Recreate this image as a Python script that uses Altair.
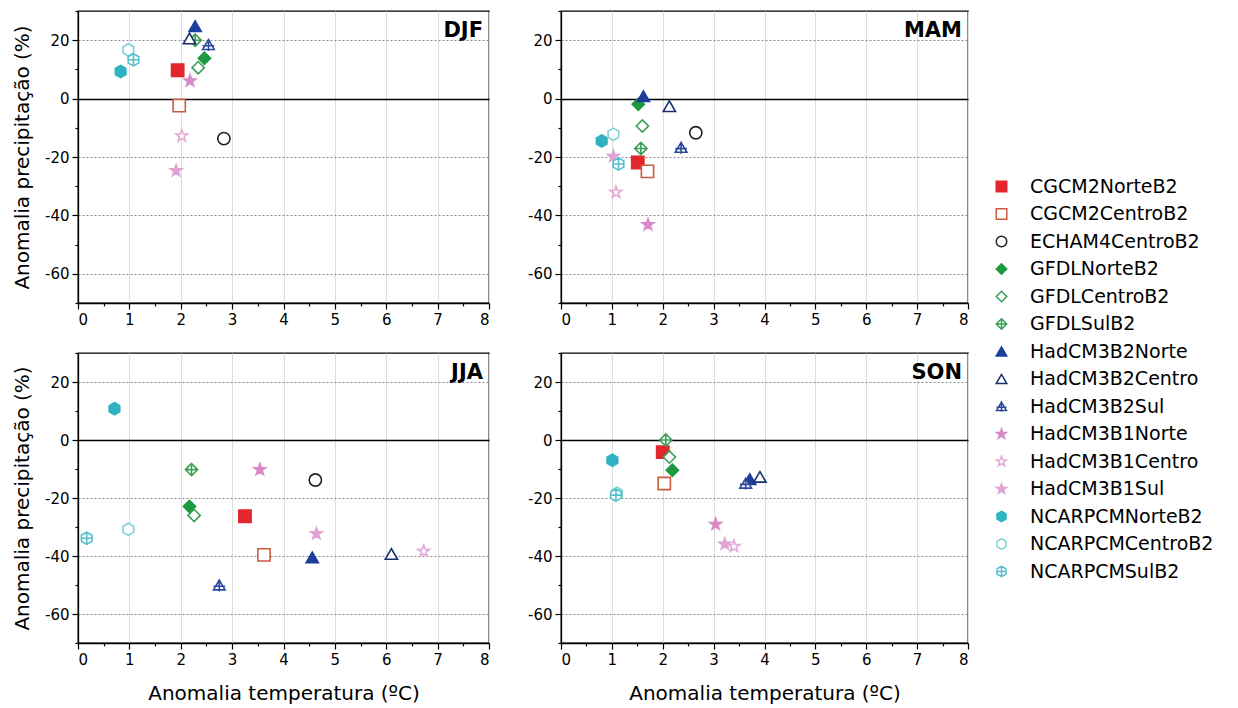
import altair as alt
import pandas as pd

series = ["CGCM2NorteB2", "CGCM2CentroB2", "ECHAM4CentroB2", "GFDLNorteB2",
          "GFDLCentroB2", "GFDLSulB2", "HadCM3B2Norte", "HadCM3B2Centro",
          "HadCM3B2Sul", "HadCM3B1Norte", "HadCM3B1Centro", "HadCM3B1Sul",
          "NCARPCMNorteB2", "NCARPCMCentroB2", "NCARPCMSulB2"]

seasons = ["DJF", "MAM", "JJA", "SON"]

djf_x = [1.94, 1.97, 2.84, 2.46, 2.34, 2.28, 2.28, 2.17, 2.54, 2.18, 2.02, 1.91, 0.83, 0.98, 1.08]
djf_y = [9.7, -2.4, -13.7, 13.8, 10.6, 20.0, 24.8, 20.6, 18.4, 6.1, -12.8, -24.7, 9.3, 16.7, 13.3]

mam_x = [1.51, 1.70, 2.65, 1.52, 1.60, 1.57, 1.62, 2.13, 2.36, 1.71, 1.08, 1.03, 0.80, 1.03, 1.13]
mam_y = [-21.9, -24.9, -11.7, -1.9, -9.4, -17.1, 0.8, -2.6, -16.8, -43.2, -32.1, -19.8, -14.5, -12.2, -22.4]

jja_x = [3.25, 3.62, 4.62, 2.17, 2.26, 2.21, 4.56, 6.10, 2.75, 3.54, 6.73, 4.64, 0.71, 0.98, 0.17]
jja_y = [-26.3, -39.6, -13.8, -22.9, -26.0, -10.2, -40.5, -39.3, -50.1, -10.2, -38.4, -32.3, 10.8, -30.8, -33.9]

son_x = [2.00, 2.03, None, 2.19, 2.13, 2.06, 3.71, 3.91, 3.63, 3.04, 3.40, 3.22, 1.01, 1.10, 1.08]
son_y = [-4.2, -15.0, None, -10.4, -5.9, 0.0, -13.5, -12.7, -15.0, -29.1, -36.7, -35.9, -7.0, -18.4, -19.0]

x_ticks = [i * 0.5 for i in range(17)]
y_ticks = list(range(-70, 31, 10))

# marker styling
STAR = ("M0,-1 L0.235,-0.324 L0.951,-0.309 L0.38,0.124 L0.588,0.809 "
        "L0,0.4 L-0.588,0.809 L-0.38,0.124 L-0.951,-0.309 L-0.235,-0.324 Z")
HEX = "M0,-1 L0.866,-0.5 L0.866,0.5 L0,1 L-0.866,0.5 L-0.866,-0.5 Z"
HEX_CROSS = HEX + " M0,-1 L0,1 M-0.866,0 L0.866,0"
DIA_CROSS = "M0,-1 L1,0 L0,1 L-1,0 Z M0,-1 L0,1 M-1,0 L1,0"
TRI_CROSS = "M0,-0.85 L0.95,0.75 L-0.95,0.75 Z M0,-1 L0,1 M-0.95,0.15 L0.95,0.15"

shapes = ["square", "square", "circle", "diamond", "diamond", DIA_CROSS,
          "triangle-up", "triangle-up", TRI_CROSS, STAR, STAR, STAR,
          HEX, HEX, HEX_CROSS]
strokes = ["#e3262b", "#cc5a40", "#222222", "#1d9a3e", "#3a9f55", "#3a9f55",
           "#1b3f9a", "#1b2f6b", "#2c4a9a", "#d98ac8", "#e3a9d6", "#e0a3d3",
           "#2fb2c2", "#7fd0d6", "#55bfcc"]
fills = ["#e3262b", "#ffffff", "#ffffff", "#1d9a3e", "#ffffff", "#ffffff",
         "#1b3f9a", "#ffffff", "#ffffff", "#d98ac8", "#ffffff", "#e0a3d3",
         "#2fb2c2", "#ffffff", "#ffffff"]

rows = []
for s, xs, ys in zip(seasons, [djf_x, mam_x, jja_x, son_x], [djf_y, mam_y, jja_y, son_y]):
    for name, xv, yv in zip(series, xs, ys):
        if xv is not None:
            rows.append({"season": s, "series": name, "x": xv, "y": yv})
df = pd.DataFrame(rows)

FONT = "DejaVu Sans"

legend = alt.Legend(title=None, orient="none", legendX=914, legendY=166,
                    labelFont=FONT, labelFontSize=19, labelColor="black",
                    labelLimit=300,
                    symbolSize=110, symbolStrokeWidth=1.5, rowPadding=7.5,
                    labelOffset=19)


def panel(season, w, h, ytitle, xtitle):
    yaxis_kwargs = dict(
        values=y_ticks,
        labelExpr="datum.value % 20 === 0 ? (datum.value < 0 ? '-' + abs(datum.value) : '' + datum.value) : ''",
        tickSize={"condition": {"test": "datum.value % 20 !== 0", "value": 3}, "value": 6},
        gridOpacity={"condition": {"test": "datum.value % 20 !== 0", "value": 0}, "value": 1},
        gridColor={"condition": {"test": "datum.value === 0", "value": "#000000"}, "value": "#8a8a8a"},
        gridDash={"condition": {"test": "datum.value === 0", "value": [1, 0]}, "value": [2, 2]},
        gridWidth={"condition": {"test": "datum.value === 0", "value": 1.6}, "value": 1},
        title=ytitle, titlePadding=12,
    )
    xaxis_kwargs = dict(
        values=x_ticks,
        labelExpr="datum.value % 1 === 0 ? '' + datum.value : ''",
        tickSize={"condition": {"test": "datum.value % 1 !== 0", "value": 3}, "value": 6},
        gridOpacity={"condition": {"test": "datum.value % 1 !== 0", "value": 0}, "value": 1},
        title=xtitle, titlePadding=16,
    )
    pts = alt.Chart(df).transform_filter(alt.datum.season == season).mark_point(
        filled=True, size=150, strokeWidth=1.6, opacity=1
    ).encode(
        x=alt.X("x:Q", scale=alt.Scale(domain=[0, 8], nice=False, zero=False),
                axis=alt.Axis(**xaxis_kwargs)),
        y=alt.Y("y:Q", scale=alt.Scale(domain=[-70, 30], nice=False, zero=False),
                axis=alt.Axis(**yaxis_kwargs)),
        shape=alt.Shape("series:N", scale=alt.Scale(domain=series, range=shapes), legend=legend),
        fill=alt.Fill("series:N", scale=alt.Scale(domain=series, range=fills), legend=legend),
        stroke=alt.Stroke("series:N", scale=alt.Scale(domain=series, range=strokes), legend=legend),
    )
    lab = alt.Chart(pd.DataFrame({"label": [season]})).mark_text(
        font=FONT, fontWeight="bold", fontSize=21, align="right", baseline="middle", color="black"
    ).encode(text="label:N", x=alt.value(w - 6), y=alt.value(20))
    return alt.layer(pts, lab).properties(width=w, height=h)


YT = "Anomalia precipitação (%)"
XT = "Anomalia temperatura (ºC)"

top = alt.hconcat(panel("DJF", 411, 292, YT, ""), panel("MAM", 407, 292, "", ""), spacing=35)
bot = alt.hconcat(panel("JJA", 411, 290, YT, XT), panel("SON", 407, 290, "", XT), spacing=35)

chart = alt.vconcat(top, bot, spacing=23).resolve_scale(
    shape="shared", fill="shared", stroke="shared"
).properties(
    padding={"left": 3, "top": 1, "right": 0, "bottom": 0}
).configure_view(
    stroke="black", strokeWidth=1.3
).configure_axis(
    labelFont=FONT, labelFontSize=15, labelColor="black", labelPadding=3,
    titleFont=FONT, titleFontSize=20, titleFontWeight="normal", titleColor="black",
    domainColor="black", domainWidth=1.3, tickColor="black", tickWidth=1.2,
)

chart.save("out.html", embed_options={"renderer": "svg", "actions": False})
